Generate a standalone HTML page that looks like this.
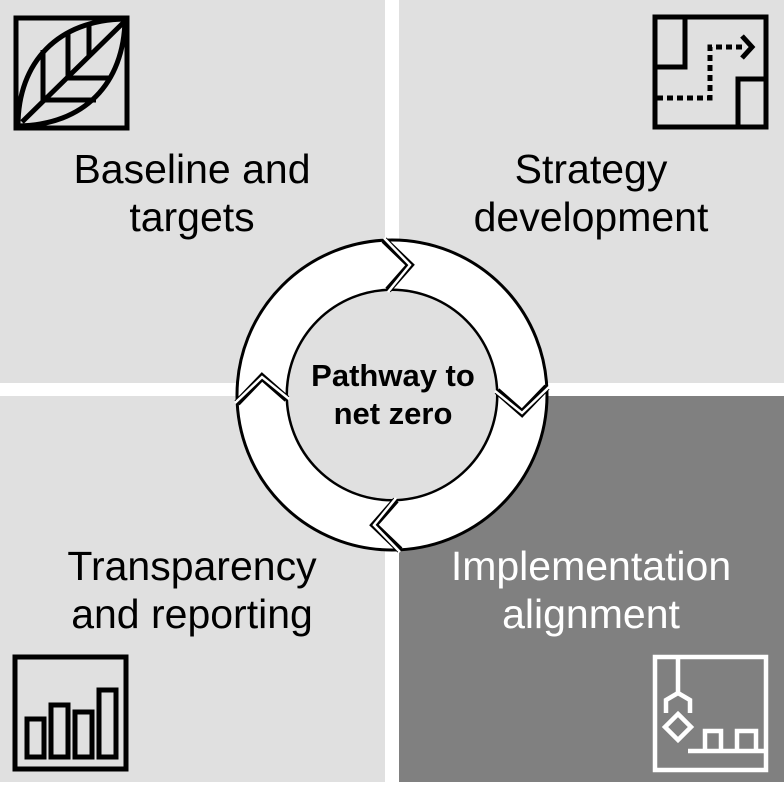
<!DOCTYPE html>
<html><head><meta charset="utf-8"><style>
html,body{margin:0;padding:0;background:#fff}
body{width:784px;height:782px;overflow:hidden}
text{font-family:"Liberation Sans",Arial,sans-serif}
</style></head><body>
<svg width="784" height="782" viewBox="0 0 784 782" xmlns="http://www.w3.org/2000/svg">
<rect x="0" y="0" width="784" height="782" fill="#fff"/>
<rect x="0" y="0" width="385" height="383" fill="#e0e0e0"/>
<rect x="399" y="0" width="385" height="383" fill="#e0e0e0"/>
<rect x="0" y="396" width="385" height="386" fill="#e0e0e0"/>
<rect x="399" y="396" width="385" height="386" fill="#808080"/>

<!-- leaf icon -->
<g fill="none" stroke="#000" stroke-width="5">
<rect x="16" y="18" width="111" height="110"/>
<path d="M18 126 C 18 62, 58 20, 125 19 C 124 84, 84 125, 18 126 Z"/>
<line x1="22" y1="122" x2="124" y2="22"/>
<line x1="43" y1="50" x2="43" y2="101"/>
<line x1="68" y1="32" x2="68" y2="77"/>
<line x1="89" y1="24" x2="89" y2="56"/>
<line x1="43" y1="100" x2="96" y2="100"/>
<line x1="67" y1="78" x2="110" y2="78"/>
</g>

<!-- strategy icon -->
<g fill="none" stroke="#000" stroke-width="5">
<rect x="655" y="17" width="111" height="110"/>
<polyline points="685,17 685,67 655,67"/>
<polyline points="766,79 738,79 738,127"/>
<polyline points="657,98 710,98 710,47 744,47" stroke-dasharray="6 4"/>
<polyline points="742,36 752,47 742,58"/>
</g>

<!-- chart icon -->
<g fill="none" stroke="#000" stroke-width="5">
<rect x="15" y="657" width="111" height="112"/>
<rect x="27" y="719" width="17" height="38"/>
<rect x="51" y="705" width="17" height="52"/>
<rect x="75" y="712" width="17" height="45"/>
<rect x="99" y="690" width="17" height="67"/>
</g>

<!-- robot icon -->
<g fill="none" stroke="#fff" stroke-width="4.5">
<rect x="655" y="657" width="111" height="113"/>
<line x1="678" y1="657" x2="678" y2="693"/>
<polyline points="666,713 666,700 678,693 690,700 690,713"/>
<polygon points="678,714 691,727 678,740 665,727"/>
<line x1="688" y1="751" x2="768" y2="751"/>
<polyline points="705,751 705,731 721,731 721,751"/>
<polyline points="737,751 737,731 756,731 756,751"/>
</g>

<!-- titles -->
<g font-size="41" text-anchor="middle">
<text x="192" y="183" fill="#000">Baseline and</text>
<text x="192" y="231" fill="#000">targets</text>
<text x="591" y="183" fill="#000">Strategy</text>
<text x="591" y="231" fill="#000">development</text>
<text x="192" y="580" fill="#000">Transparency</text>
<text x="192" y="628" fill="#000">and reporting</text>
<text x="591" y="580" fill="#fff">Implementation</text>
<text x="591" y="628" fill="#fff">alignment</text>
</g>

<!-- ring -->
<circle cx="392" cy="395" r="130" fill="none" stroke="#000" stroke-width="53"/>
<circle cx="392" cy="395" r="130" fill="none" stroke="#fff" stroke-width="47"/>
<circle cx="392" cy="395" r="104" fill="#e0e0e0"/>
<g transform="translate(392,395)">
<g><polyline points="-8,-155 18,-130 -4,-105" fill="none" stroke="#000" stroke-width="7"/><polyline points="-8,-157 18,-130 -4,-103" fill="none" stroke="#fff" stroke-width="2.5"/></g>
<g transform="rotate(90)"><polyline points="-8,-155 18,-130 -4,-105" fill="none" stroke="#000" stroke-width="7"/><polyline points="-8,-157 18,-130 -4,-103" fill="none" stroke="#fff" stroke-width="2.5"/></g>
<g transform="rotate(180)"><polyline points="-8,-155 18,-130 -4,-105" fill="none" stroke="#000" stroke-width="7"/><polyline points="-8,-157 18,-130 -4,-103" fill="none" stroke="#fff" stroke-width="2.5"/></g>
<g transform="rotate(270)"><polyline points="-8,-155 18,-130 -4,-105" fill="none" stroke="#000" stroke-width="7"/><polyline points="-8,-157 18,-130 -4,-103" fill="none" stroke="#fff" stroke-width="2.5"/></g>
</g>
<text x="393" y="386" font-size="31" font-weight="bold" text-anchor="middle">Pathway to</text>
<text x="393" y="424" font-size="31" font-weight="bold" text-anchor="middle">net zero</text>
</svg>
</body></html>
